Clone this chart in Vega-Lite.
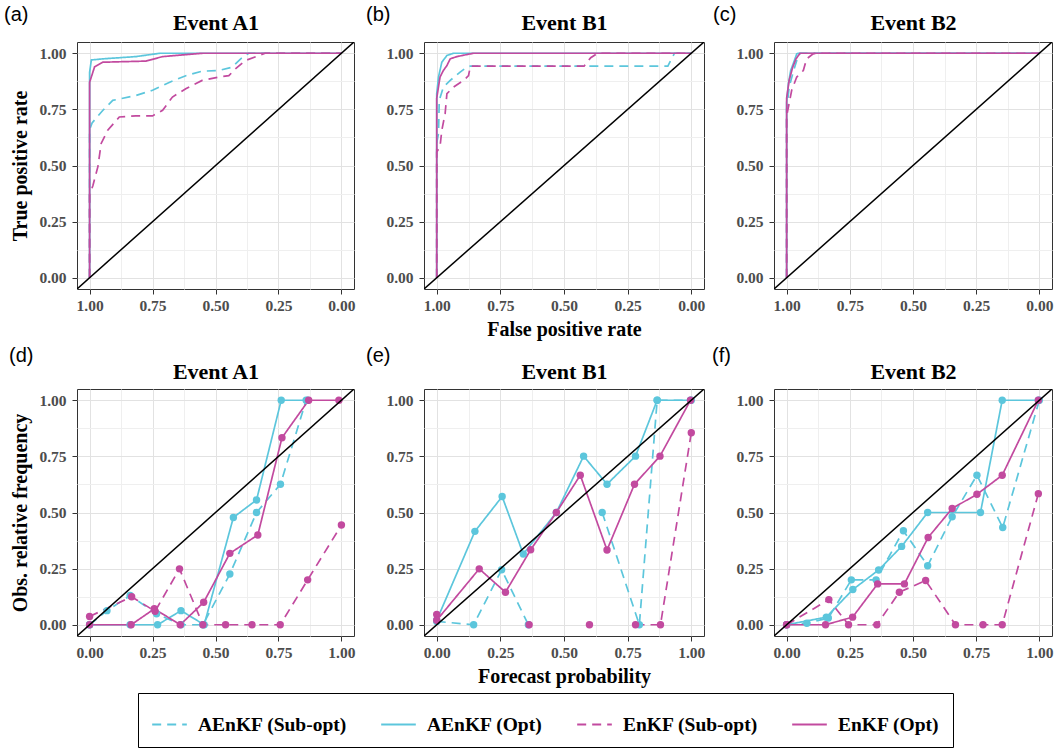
{
"$schema": "https://vega.github.io/schema/vega-lite/v6.json",
"padding": {"left": 3, "top": 4, "right": 2, "bottom": 2},
"background": "white",
"config": {
  "view": {"stroke": "#333333", "strokeWidth": 1},
  "axis": {"labelFont": "Liberation Serif", "labelFontWeight": "bold", "labelFontSize": 15.5, "labelColor": "#4d4d4d",
           "titleFont": "Liberation Serif", "titleFontWeight": "bold", "titleFontSize": 20, "titleColor": "black",
           "domain": false, "tickColor": "#333333", "tickSize": 5, "gridWidth": 1},
  "title": {"font": "Liberation Sans", "fontSize": 20, "fontWeight": "normal", "anchor": "start", "frame": "group", "baseline": "alphabetic", "color": "black"},
  "legend": {"labelFont": "Liberation Serif", "labelFontWeight": "bold", "labelFontSize": 19.5, "labelColor": "black",
             "symbolType": "stroke", "symbolSize": 1200, "symbolStrokeWidth": 2, "strokeColor": "black", "padding": 13,
             "columnPadding": 30, "labelOffset": 10, "labelLimit": 300}
},
"datasets": {
"roc": [
{"p":"a","m":"AEnKF (Sub-opt)","i":0,"x":1,"y":0},{"p":"a","m":"AEnKF (Sub-opt)","i":1,"x":1,"y":0.66},{"p":"a","m":"AEnKF (Sub-opt)","i":2,"x":0.99,"y":0.69},{"p":"a","m":"AEnKF (Sub-opt)","i":3,"x":0.947,"y":0.746},{"p":"a","m":"AEnKF (Sub-opt)","i":4,"x":0.908,"y":0.79},{"p":"a","m":"AEnKF (Sub-opt)","i":5,"x":0.816,"y":0.812},{"p":"a","m":"AEnKF (Sub-opt)","i":6,"x":0.75,"y":0.835},{"p":"a","m":"AEnKF (Sub-opt)","i":7,"x":0.684,"y":0.87},{"p":"a","m":"AEnKF (Sub-opt)","i":8,"x":0.618,"y":0.9},{"p":"a","m":"AEnKF (Sub-opt)","i":9,"x":0.553,"y":0.92},{"p":"a","m":"AEnKF (Sub-opt)","i":10,"x":0.487,"y":0.923},{"p":"a","m":"AEnKF (Sub-opt)","i":11,"x":0.434,"y":0.938},{"p":"a","m":"AEnKF (Sub-opt)","i":12,"x":0.4,"y":0.975},{"p":"a","m":"AEnKF (Sub-opt)","i":13,"x":0.368,"y":1},{"p":"a","m":"AEnKF (Sub-opt)","i":14,"x":0,"y":1},
{"p":"a","m":"AEnKF (Opt)","i":0,"x":1,"y":0},{"p":"a","m":"AEnKF (Opt)","i":1,"x":1,"y":0.915},{"p":"a","m":"AEnKF (Opt)","i":2,"x":0.993,"y":0.97},{"p":"a","m":"AEnKF (Opt)","i":3,"x":0.947,"y":0.975},{"p":"a","m":"AEnKF (Opt)","i":4,"x":0.816,"y":0.985},{"p":"a","m":"AEnKF (Opt)","i":5,"x":0.72,"y":1},{"p":"a","m":"AEnKF (Opt)","i":6,"x":0,"y":1},
{"p":"a","m":"EnKF (Sub-opt)","i":0,"x":1,"y":0},{"p":"a","m":"EnKF (Sub-opt)","i":1,"x":1,"y":0.37},{"p":"a","m":"EnKF (Sub-opt)","i":2,"x":0.987,"y":0.41},{"p":"a","m":"EnKF (Sub-opt)","i":3,"x":0.967,"y":0.495},{"p":"a","m":"EnKF (Sub-opt)","i":4,"x":0.954,"y":0.598},{"p":"a","m":"EnKF (Sub-opt)","i":5,"x":0.928,"y":0.657},{"p":"a","m":"EnKF (Sub-opt)","i":6,"x":0.882,"y":0.716},{"p":"a","m":"EnKF (Sub-opt)","i":7,"x":0.816,"y":0.721},{"p":"a","m":"EnKF (Sub-opt)","i":8,"x":0.75,"y":0.721},{"p":"a","m":"EnKF (Sub-opt)","i":9,"x":0.71,"y":0.746},{"p":"a","m":"EnKF (Sub-opt)","i":10,"x":0.671,"y":0.805},{"p":"a","m":"EnKF (Sub-opt)","i":11,"x":0.618,"y":0.842},{"p":"a","m":"EnKF (Sub-opt)","i":12,"x":0.553,"y":0.879},{"p":"a","m":"EnKF (Sub-opt)","i":13,"x":0.487,"y":0.894},{"p":"a","m":"EnKF (Sub-opt)","i":14,"x":0.447,"y":0.9},{"p":"a","m":"EnKF (Sub-opt)","i":15,"x":0.421,"y":0.93},{"p":"a","m":"EnKF (Sub-opt)","i":16,"x":0.382,"y":0.967},{"p":"a","m":"EnKF (Sub-opt)","i":17,"x":0.303,"y":1},{"p":"a","m":"EnKF (Sub-opt)","i":18,"x":0,"y":1},
{"p":"a","m":"EnKF (Opt)","i":0,"x":1,"y":0},{"p":"a","m":"EnKF (Opt)","i":1,"x":1,"y":0.87},{"p":"a","m":"EnKF (Opt)","i":2,"x":0.98,"y":0.94},{"p":"a","m":"EnKF (Opt)","i":3,"x":0.947,"y":0.96},{"p":"a","m":"EnKF (Opt)","i":4,"x":0.776,"y":0.965},{"p":"a","m":"EnKF (Opt)","i":5,"x":0.71,"y":0.985},{"p":"a","m":"EnKF (Opt)","i":6,"x":0.605,"y":0.995},{"p":"a","m":"EnKF (Opt)","i":7,"x":0.55,"y":1},{"p":"a","m":"EnKF (Opt)","i":8,"x":0,"y":1},
{"p":"b","m":"AEnKF (Sub-opt)","i":0,"x":1,"y":0},{"p":"b","m":"AEnKF (Sub-opt)","i":1,"x":1,"y":0.6},{"p":"b","m":"AEnKF (Sub-opt)","i":2,"x":0.993,"y":0.643},{"p":"b","m":"AEnKF (Sub-opt)","i":3,"x":0.99,"y":0.79},{"p":"b","m":"AEnKF (Sub-opt)","i":4,"x":0.974,"y":0.849},{"p":"b","m":"AEnKF (Sub-opt)","i":5,"x":0.947,"y":0.879},{"p":"b","m":"AEnKF (Sub-opt)","i":6,"x":0.908,"y":0.916},{"p":"b","m":"AEnKF (Sub-opt)","i":7,"x":0.882,"y":0.938},{"p":"b","m":"AEnKF (Sub-opt)","i":8,"x":0.868,"y":0.943},{"p":"b","m":"AEnKF (Sub-opt)","i":9,"x":0.092,"y":0.943},{"p":"b","m":"AEnKF (Sub-opt)","i":10,"x":0.066,"y":1},{"p":"b","m":"AEnKF (Sub-opt)","i":11,"x":0,"y":1},
{"p":"b","m":"AEnKF (Opt)","i":0,"x":1,"y":0},{"p":"b","m":"AEnKF (Opt)","i":1,"x":1,"y":0.82},{"p":"b","m":"AEnKF (Opt)","i":2,"x":0.993,"y":0.894},{"p":"b","m":"AEnKF (Opt)","i":3,"x":0.98,"y":0.96},{"p":"b","m":"AEnKF (Opt)","i":4,"x":0.96,"y":0.99},{"p":"b","m":"AEnKF (Opt)","i":5,"x":0.934,"y":1},{"p":"b","m":"AEnKF (Opt)","i":6,"x":0,"y":1},
{"p":"b","m":"EnKF (Sub-opt)","i":0,"x":1,"y":0},{"p":"b","m":"EnKF (Sub-opt)","i":1,"x":1,"y":0.56},{"p":"b","m":"EnKF (Sub-opt)","i":2,"x":0.987,"y":0.584},{"p":"b","m":"EnKF (Sub-opt)","i":3,"x":0.98,"y":0.657},{"p":"b","m":"EnKF (Sub-opt)","i":4,"x":0.967,"y":0.731},{"p":"b","m":"EnKF (Sub-opt)","i":5,"x":0.96,"y":0.82},{"p":"b","m":"EnKF (Sub-opt)","i":6,"x":0.934,"y":0.849},{"p":"b","m":"EnKF (Sub-opt)","i":7,"x":0.895,"y":0.879},{"p":"b","m":"EnKF (Sub-opt)","i":8,"x":0.875,"y":0.9},{"p":"b","m":"EnKF (Sub-opt)","i":9,"x":0.868,"y":0.943},{"p":"b","m":"EnKF (Sub-opt)","i":10,"x":0.421,"y":0.943},{"p":"b","m":"EnKF (Sub-opt)","i":11,"x":0.395,"y":0.98},{"p":"b","m":"EnKF (Sub-opt)","i":12,"x":0.368,"y":1},{"p":"b","m":"EnKF (Sub-opt)","i":13,"x":0,"y":1},
{"p":"b","m":"EnKF (Opt)","i":0,"x":1,"y":0},{"p":"b","m":"EnKF (Opt)","i":1,"x":1,"y":0.8},{"p":"b","m":"EnKF (Opt)","i":2,"x":0.987,"y":0.894},{"p":"b","m":"EnKF (Opt)","i":3,"x":0.974,"y":0.923},{"p":"b","m":"EnKF (Opt)","i":4,"x":0.96,"y":0.945},{"p":"b","m":"EnKF (Opt)","i":5,"x":0.947,"y":0.975},{"p":"b","m":"EnKF (Opt)","i":6,"x":0.921,"y":0.985},{"p":"b","m":"EnKF (Opt)","i":7,"x":0.882,"y":0.994},{"p":"b","m":"EnKF (Opt)","i":8,"x":0.855,"y":1},{"p":"b","m":"EnKF (Opt)","i":9,"x":0,"y":1},
{"p":"c","m":"AEnKF (Sub-opt)","i":0,"x":1,"y":0},{"p":"c","m":"AEnKF (Sub-opt)","i":1,"x":1,"y":0.75},{"p":"c","m":"AEnKF (Sub-opt)","i":2,"x":0.99,"y":0.849},{"p":"c","m":"AEnKF (Sub-opt)","i":3,"x":0.974,"y":0.916},{"p":"c","m":"AEnKF (Sub-opt)","i":4,"x":0.958,"y":0.975},{"p":"c","m":"AEnKF (Sub-opt)","i":5,"x":0.947,"y":1},{"p":"c","m":"AEnKF (Sub-opt)","i":6,"x":0,"y":1},
{"p":"c","m":"AEnKF (Opt)","i":0,"x":1,"y":0},{"p":"c","m":"AEnKF (Opt)","i":1,"x":1,"y":0.78},{"p":"c","m":"AEnKF (Opt)","i":2,"x":0.993,"y":0.864},{"p":"c","m":"AEnKF (Opt)","i":3,"x":0.984,"y":0.923},{"p":"c","m":"AEnKF (Opt)","i":4,"x":0.974,"y":0.953},{"p":"c","m":"AEnKF (Opt)","i":5,"x":0.96,"y":0.997},{"p":"c","m":"AEnKF (Opt)","i":6,"x":0.954,"y":1},{"p":"c","m":"AEnKF (Opt)","i":7,"x":0,"y":1},
{"p":"c","m":"EnKF (Sub-opt)","i":0,"x":1,"y":0},{"p":"c","m":"EnKF (Sub-opt)","i":1,"x":1,"y":0.72},{"p":"c","m":"EnKF (Sub-opt)","i":2,"x":0.993,"y":0.76},{"p":"c","m":"EnKF (Sub-opt)","i":3,"x":0.98,"y":0.835},{"p":"c","m":"EnKF (Sub-opt)","i":4,"x":0.96,"y":0.894},{"p":"c","m":"EnKF (Sub-opt)","i":5,"x":0.934,"y":0.923},{"p":"c","m":"EnKF (Sub-opt)","i":6,"x":0.921,"y":0.975},{"p":"c","m":"EnKF (Sub-opt)","i":7,"x":0.895,"y":0.997},{"p":"c","m":"EnKF (Sub-opt)","i":8,"x":0.882,"y":1},{"p":"c","m":"EnKF (Sub-opt)","i":9,"x":0,"y":1},
{"p":"c","m":"EnKF (Opt)","i":0,"x":1,"y":0},{"p":"c","m":"EnKF (Opt)","i":1,"x":1,"y":0.8},{"p":"c","m":"EnKF (Opt)","i":2,"x":0.99,"y":0.879},{"p":"c","m":"EnKF (Opt)","i":3,"x":0.976,"y":0.938},{"p":"c","m":"EnKF (Opt)","i":4,"x":0.963,"y":0.975},{"p":"c","m":"EnKF (Opt)","i":5,"x":0.947,"y":1},{"p":"c","m":"EnKF (Opt)","i":6,"x":0,"y":1}
],
"rel": [
{"p":"d","m":"AEnKF (Sub-opt)","x":0,"y":0},{"p":"d","m":"AEnKF (Sub-opt)","x":0.069,"y":0.063},{"p":"d","m":"AEnKF (Sub-opt)","x":0.161,"y":0.13},{"p":"d","m":"AEnKF (Sub-opt)","x":0.266,"y":0.049},{"p":"d","m":"AEnKF (Sub-opt)","x":0.363,"y":0},{"p":"d","m":"AEnKF (Sub-opt)","x":0.45,"y":0},{"p":"d","m":"AEnKF (Sub-opt)","x":0.557,"y":0.226},{"p":"d","m":"AEnKF (Sub-opt)","x":0.663,"y":0.5},{"p":"d","m":"AEnKF (Sub-opt)","x":0.758,"y":0.626},{"p":"d","m":"AEnKF (Sub-opt)","x":0.86,"y":1},
{"p":"d","m":"AEnKF (Opt)","x":0,"y":0},{"p":"d","m":"AEnKF (Opt)","x":0.161,"y":0},{"p":"d","m":"AEnKF (Opt)","x":0.27,"y":0},{"p":"d","m":"AEnKF (Opt)","x":0.363,"y":0.063},{"p":"d","m":"AEnKF (Opt)","x":0.455,"y":0},{"p":"d","m":"AEnKF (Opt)","x":0.571,"y":0.478},{"p":"d","m":"AEnKF (Opt)","x":0.663,"y":0.556},{"p":"d","m":"AEnKF (Opt)","x":0.761,"y":1},{"p":"d","m":"AEnKF (Opt)","x":0.866,"y":1},
{"p":"d","m":"EnKF (Sub-opt)","x":0,"y":0.037},{"p":"d","m":"EnKF (Sub-opt)","x":0.167,"y":0.125},{"p":"d","m":"EnKF (Sub-opt)","x":0.26,"y":0.06},{"p":"d","m":"EnKF (Sub-opt)","x":0.357,"y":0.249},{"p":"d","m":"EnKF (Sub-opt)","x":0.45,"y":0},{"p":"d","m":"EnKF (Sub-opt)","x":0.54,"y":0},{"p":"d","m":"EnKF (Sub-opt)","x":0.645,"y":0},{"p":"d","m":"EnKF (Sub-opt)","x":0.757,"y":0},{"p":"d","m":"EnKF (Sub-opt)","x":0.866,"y":0.2},{"p":"d","m":"EnKF (Sub-opt)","x":1,"y":0.444},
{"p":"d","m":"EnKF (Opt)","x":0,"y":0},{"p":"d","m":"EnKF (Opt)","x":0.165,"y":0},{"p":"d","m":"EnKF (Opt)","x":0.257,"y":0.071},{"p":"d","m":"EnKF (Opt)","x":0.36,"y":0},{"p":"d","m":"EnKF (Opt)","x":0.453,"y":0.1},{"p":"d","m":"EnKF (Opt)","x":0.557,"y":0.318},{"p":"d","m":"EnKF (Opt)","x":0.668,"y":0.4},{"p":"d","m":"EnKF (Opt)","x":0.764,"y":0.833},{"p":"d","m":"EnKF (Opt)","x":0.87,"y":1},{"p":"d","m":"EnKF (Opt)","x":0.99,"y":1},
{"p":"e","m":"AEnKF (Sub-opt)","x":0,"y":0.015},{"p":"e","m":"AEnKF (Sub-opt)","x":0.145,"y":0},{"p":"e","m":"AEnKF (Sub-opt)","x":0.255,"y":0.245},{"p":"e","m":"AEnKF (Sub-opt)","x":0.36,"y":0},{"p":"e","m":"AEnKF (Sub-opt)","x":0.5,"y":null},{"p":"e","m":"AEnKF (Sub-opt)","x":0.65,"y":0.5},{"p":"e","m":"AEnKF (Sub-opt)","x":0.796,"y":0},{"p":"e","m":"AEnKF (Sub-opt)","x":0.866,"y":1},{"p":"e","m":"AEnKF (Sub-opt)","x":1,"y":1},
{"p":"e","m":"AEnKF (Opt)","x":0,"y":0.02},{"p":"e","m":"AEnKF (Opt)","x":0.15,"y":0.416},{"p":"e","m":"AEnKF (Opt)","x":0.257,"y":0.571},{"p":"e","m":"AEnKF (Opt)","x":0.34,"y":0.315},{"p":"e","m":"AEnKF (Opt)","x":0.47,"y":0.5},{"p":"e","m":"AEnKF (Opt)","x":0.577,"y":0.751},{"p":"e","m":"AEnKF (Opt)","x":0.669,"y":0.626},{"p":"e","m":"AEnKF (Opt)","x":0.781,"y":0.751},{"p":"e","m":"AEnKF (Opt)","x":0.866,"y":1},{"p":"e","m":"AEnKF (Opt)","x":0.997,"y":1},
{"p":"e","m":"EnKF (Sub-opt)","x":0,"y":0.046},{"p":"e","m":"EnKF (Sub-opt)","x":0.18,"y":null},{"p":"e","m":"EnKF (Sub-opt)","x":0.363,"y":0},{"p":"e","m":"EnKF (Sub-opt)","x":0.48,"y":null},{"p":"e","m":"EnKF (Sub-opt)","x":0.6,"y":0},{"p":"e","m":"EnKF (Sub-opt)","x":0.7,"y":null},{"p":"e","m":"EnKF (Sub-opt)","x":0.781,"y":0},{"p":"e","m":"EnKF (Sub-opt)","x":0.879,"y":0},{"p":"e","m":"EnKF (Sub-opt)","x":1,"y":0.855},
{"p":"e","m":"EnKF (Opt)","x":0,"y":0.02},{"p":"e","m":"EnKF (Opt)","x":0.167,"y":0.249},{"p":"e","m":"EnKF (Opt)","x":0.27,"y":0.145},{"p":"e","m":"EnKF (Opt)","x":0.369,"y":0.334},{"p":"e","m":"EnKF (Opt)","x":0.47,"y":0.5},{"p":"e","m":"EnKF (Opt)","x":0.564,"y":0.666},{"p":"e","m":"EnKF (Opt)","x":0.669,"y":0.333},{"p":"e","m":"EnKF (Opt)","x":0.777,"y":0.626},{"p":"e","m":"EnKF (Opt)","x":0.877,"y":0.751},{"p":"e","m":"EnKF (Opt)","x":0.997,"y":1},
{"p":"f","m":"AEnKF (Sub-opt)","x":0,"y":0},{"p":"f","m":"AEnKF (Sub-opt)","x":0.08,"y":0.007},{"p":"f","m":"AEnKF (Sub-opt)","x":0.165,"y":0.03},{"p":"f","m":"AEnKF (Sub-opt)","x":0.256,"y":0.2},{"p":"f","m":"AEnKF (Sub-opt)","x":0.354,"y":0.2},{"p":"f","m":"AEnKF (Sub-opt)","x":0.462,"y":0.419},{"p":"f","m":"AEnKF (Sub-opt)","x":0.558,"y":0.263},{"p":"f","m":"AEnKF (Sub-opt)","x":0.655,"y":0.481},{"p":"f","m":"AEnKF (Sub-opt)","x":0.753,"y":0.666},{"p":"f","m":"AEnKF (Sub-opt)","x":0.855,"y":0.433},{"p":"f","m":"AEnKF (Sub-opt)","x":1,"y":1},
{"p":"f","m":"AEnKF (Opt)","x":0,"y":0},{"p":"f","m":"AEnKF (Opt)","x":0.157,"y":0.034},{"p":"f","m":"AEnKF (Opt)","x":0.262,"y":0.157},{"p":"f","m":"AEnKF (Opt)","x":0.364,"y":0.244},{"p":"f","m":"AEnKF (Opt)","x":0.455,"y":0.349},{"p":"f","m":"AEnKF (Opt)","x":0.558,"y":0.5},{"p":"f","m":"AEnKF (Opt)","x":0.767,"y":0.5},{"p":"f","m":"AEnKF (Opt)","x":0.853,"y":1},{"p":"f","m":"AEnKF (Opt)","x":0.996,"y":1},
{"p":"f","m":"EnKF (Sub-opt)","x":0,"y":0},{"p":"f","m":"EnKF (Sub-opt)","x":0.167,"y":0.112},{"p":"f","m":"EnKF (Sub-opt)","x":0.245,"y":0},{"p":"f","m":"EnKF (Sub-opt)","x":0.357,"y":0},{"p":"f","m":"EnKF (Sub-opt)","x":0.446,"y":0.145},{"p":"f","m":"EnKF (Sub-opt)","x":0.55,"y":0.197},{"p":"f","m":"EnKF (Sub-opt)","x":0.668,"y":0},{"p":"f","m":"EnKF (Sub-opt)","x":0.777,"y":0},{"p":"f","m":"EnKF (Sub-opt)","x":0.853,"y":0},{"p":"f","m":"EnKF (Sub-opt)","x":0.996,"y":0.584},
{"p":"f","m":"EnKF (Opt)","x":0,"y":0},{"p":"f","m":"EnKF (Opt)","x":0.154,"y":0},{"p":"f","m":"EnKF (Opt)","x":0.261,"y":0.034},{"p":"f","m":"EnKF (Opt)","x":0.36,"y":0.182},{"p":"f","m":"EnKF (Opt)","x":0.466,"y":0.182},{"p":"f","m":"EnKF (Opt)","x":0.56,"y":0.389},{"p":"f","m":"EnKF (Opt)","x":0.655,"y":0.518},{"p":"f","m":"EnKF (Opt)","x":0.753,"y":0.581},{"p":"f","m":"EnKF (Opt)","x":0.853,"y":0.666},{"p":"f","m":"EnKF (Opt)","x":0.996,"y":1}
]
},
"bounds": "flush",
"align": "each",
"columns": 3,
"spacing": {"row": 100, "column": 70},
"concat": [
 {"width": 277, "height": 247, "title": {"text": "(a)", "dx": -73, "offset": -14},
  "resolve": {"axis": {"x": "independent", "y": "independent"}},
  "layer": [
   {"data": {"name": "roc"}, "transform": [{"filter": "datum.p == 'a'"}],
    "mark": {"type": "line", "strokeWidth": 1.7, "clip": true},
    "encoding": {
     "x": {"field": "x", "type": "quantitative", "scale": {"domain": [-0.05, 1.05], "reverse": true, "nice": false, "zero": false},
       "axis": {"title": null, "values": [0,0.125,0.25,0.375,0.5,0.625,0.75,0.875,1], "labelOverlap": false, "labelFlush": false, "labelPadding": 4,
         "labelExpr": "abs(datum.value*4-round(datum.value*4))<0.01 ? format(datum.value,'.2f') : ''",
         "tickOpacity": {"condition": {"test": "abs(datum.value*4-round(datum.value*4))<0.01", "value": 1}, "value": 0},
         "gridColor": {"condition": {"test": "abs(datum.value*4-round(datum.value*4))<0.01", "value": "#e2e2e2"}, "value": "#efefef"}}},
     "y": {"field": "y", "type": "quantitative", "scale": {"domain": [-0.05, 1.05], "nice": false, "zero": false},
       "axis": {"title": "True positive rate", "titlePadding": 8, "values": [0,0.125,0.25,0.375,0.5,0.625,0.75,0.875,1], "labelOverlap": false, "labelFlush": false, "labelPadding": 6,
         "labelExpr": "abs(datum.value*4-round(datum.value*4))<0.01 ? format(datum.value,'.2f') : ''",
         "tickOpacity": {"condition": {"test": "abs(datum.value*4-round(datum.value*4))<0.01", "value": 1}, "value": 0},
         "gridColor": {"condition": {"test": "abs(datum.value*4-round(datum.value*4))<0.01", "value": "#e2e2e2"}, "value": "#efefef"}}},
     "color": {"field": "m", "type": "nominal", "scale": {"domain": ["AEnKF (Sub-opt)", "AEnKF (Opt)", "EnKF (Sub-opt)", "EnKF (Opt)"], "range": ["#5cc6dc", "#5cc6dc", "#c24a9f", "#c24a9f"]},
       "legend": {"title": null, "orient": "none", "legendX": 61, "legendY": 651, "direction": "horizontal", "columns": 4}},
     "strokeDash": {"field": "m", "type": "nominal", "scale": {"domain": ["AEnKF (Sub-opt)", "AEnKF (Opt)", "EnKF (Sub-opt)", "EnKF (Opt)"], "range": [[9, 6], [1, 0], [9, 6], [1, 0]]},
       "legend": {"title": null, "orient": "none", "legendX": 61, "legendY": 651, "direction": "horizontal", "columns": 4}},
     "order": {"field": "i", "type": "quantitative"}
    }},
   {"data": {"values": [{}]},
    "mark": {"type": "rule", "color": "black", "strokeWidth": 1.5, "clip": true},
    "encoding": {
     "x": {"datum": 1.05, "type": "quantitative", "scale": {"domain": [-0.05, 1.05], "reverse": true, "nice": false, "zero": false},
       "axis": {"orient": "top", "title": "Event A1", "labels": false, "ticks": false, "grid": false, "domain": false, "titleFontSize": 22, "titleBaseline": "alphabetic", "titlePadding": 13}},
     "y": {"datum": -0.05, "type": "quantitative", "scale": {"domain": [-0.05, 1.05], "nice": false, "zero": false}, "axis": null},
     "x2": {"datum": -0.05}, "y2": {"datum": 1.05}
    }}
  ]},
 {"width": 280, "height": 247, "title": {"text": "(b)", "dx": -58, "offset": -14},
  "resolve": {"axis": {"x": "independent", "y": "independent"}},
  "layer": [
   {"data": {"name": "roc"}, "transform": [{"filter": "datum.p == 'b'"}],
    "mark": {"type": "line", "strokeWidth": 1.7, "clip": true},
    "encoding": {
     "x": {"field": "x", "type": "quantitative", "scale": {"domain": [-0.05, 1.05], "reverse": true, "nice": false, "zero": false},
       "axis": {"title": "False positive rate", "titlePadding": 6, "values": [0,0.125,0.25,0.375,0.5,0.625,0.75,0.875,1], "labelOverlap": false, "labelFlush": false, "labelPadding": 4,
         "labelExpr": "abs(datum.value*4-round(datum.value*4))<0.01 ? format(datum.value,'.2f') : ''",
         "tickOpacity": {"condition": {"test": "abs(datum.value*4-round(datum.value*4))<0.01", "value": 1}, "value": 0},
         "gridColor": {"condition": {"test": "abs(datum.value*4-round(datum.value*4))<0.01", "value": "#e2e2e2"}, "value": "#efefef"}}},
     "y": {"field": "y", "type": "quantitative", "scale": {"domain": [-0.05, 1.05], "nice": false, "zero": false},
       "axis": {"title": null, "values": [0,0.125,0.25,0.375,0.5,0.625,0.75,0.875,1], "labelOverlap": false, "labelFlush": false, "labelPadding": 6,
         "labelExpr": "abs(datum.value*4-round(datum.value*4))<0.01 ? format(datum.value,'.2f') : ''",
         "tickOpacity": {"condition": {"test": "abs(datum.value*4-round(datum.value*4))<0.01", "value": 1}, "value": 0},
         "gridColor": {"condition": {"test": "abs(datum.value*4-round(datum.value*4))<0.01", "value": "#e2e2e2"}, "value": "#efefef"}}},
     "color": {"field": "m", "type": "nominal"},
     "strokeDash": {"field": "m", "type": "nominal"},
     "order": {"field": "i", "type": "quantitative"}
    }},
   {"data": {"values": [{}]},
    "mark": {"type": "rule", "color": "black", "strokeWidth": 1.5, "clip": true},
    "encoding": {
     "x": {"datum": 1.05, "type": "quantitative", "scale": {"domain": [-0.05, 1.05], "reverse": true, "nice": false, "zero": false},
       "axis": {"orient": "top", "title": "Event B1", "labels": false, "ticks": false, "grid": false, "domain": false, "titleFontSize": 22, "titleBaseline": "alphabetic", "titlePadding": 13}},
     "y": {"datum": -0.05, "type": "quantitative", "scale": {"domain": [-0.05, 1.05], "nice": false, "zero": false}, "axis": null},
     "x2": {"datum": -0.05}, "y2": {"datum": 1.05}
    }}
  ]},
 {"width": 278, "height": 247, "title": {"text": "(c)", "dx": -61, "offset": -14},
  "resolve": {"axis": {"x": "independent", "y": "independent"}},
  "layer": [
   {"data": {"name": "roc"}, "transform": [{"filter": "datum.p == 'c'"}],
    "mark": {"type": "line", "strokeWidth": 1.7, "clip": true},
    "encoding": {
     "x": {"field": "x", "type": "quantitative", "scale": {"domain": [-0.05, 1.05], "reverse": true, "nice": false, "zero": false},
       "axis": {"title": null, "values": [0,0.125,0.25,0.375,0.5,0.625,0.75,0.875,1], "labelOverlap": false, "labelFlush": false, "labelPadding": 4,
         "labelExpr": "abs(datum.value*4-round(datum.value*4))<0.01 ? format(datum.value,'.2f') : ''",
         "tickOpacity": {"condition": {"test": "abs(datum.value*4-round(datum.value*4))<0.01", "value": 1}, "value": 0},
         "gridColor": {"condition": {"test": "abs(datum.value*4-round(datum.value*4))<0.01", "value": "#e2e2e2"}, "value": "#efefef"}}},
     "y": {"field": "y", "type": "quantitative", "scale": {"domain": [-0.05, 1.05], "nice": false, "zero": false},
       "axis": {"title": null, "values": [0,0.125,0.25,0.375,0.5,0.625,0.75,0.875,1], "labelOverlap": false, "labelFlush": false, "labelPadding": 6,
         "labelExpr": "abs(datum.value*4-round(datum.value*4))<0.01 ? format(datum.value,'.2f') : ''",
         "tickOpacity": {"condition": {"test": "abs(datum.value*4-round(datum.value*4))<0.01", "value": 1}, "value": 0},
         "gridColor": {"condition": {"test": "abs(datum.value*4-round(datum.value*4))<0.01", "value": "#e2e2e2"}, "value": "#efefef"}}},
     "color": {"field": "m", "type": "nominal"},
     "strokeDash": {"field": "m", "type": "nominal"},
     "order": {"field": "i", "type": "quantitative"}
    }},
   {"data": {"values": [{}]},
    "mark": {"type": "rule", "color": "black", "strokeWidth": 1.5, "clip": true},
    "encoding": {
     "x": {"datum": 1.05, "type": "quantitative", "scale": {"domain": [-0.05, 1.05], "reverse": true, "nice": false, "zero": false},
       "axis": {"orient": "top", "title": "Event B2", "labels": false, "ticks": false, "grid": false, "domain": false, "titleFontSize": 22, "titleBaseline": "alphabetic", "titlePadding": 13}},
     "y": {"datum": -0.05, "type": "quantitative", "scale": {"domain": [-0.05, 1.05], "nice": false, "zero": false}, "axis": null},
     "x2": {"datum": -0.05}, "y2": {"datum": 1.05}
    }}
  ]},
 {"width": 277, "height": 247, "title": {"text": "(d)", "dx": -68, "offset": -6},
  "resolve": {"axis": {"x": "independent", "y": "independent"}},
  "layer": [
   {"data": {"name": "rel"}, "transform": [{"filter": "datum.p == 'd'"}],
    "mark": {"type": "line", "strokeWidth": 1.7, "invalid": "break-paths-filter-domains"},
    "encoding": {
     "x": {"field": "x", "type": "quantitative", "scale": {"domain": [-0.05, 1.05], "nice": false, "zero": false},
       "axis": {"title": null, "values": [0,0.125,0.25,0.375,0.5,0.625,0.75,0.875,1], "labelOverlap": false, "labelFlush": false, "labelPadding": 4,
         "labelExpr": "abs(datum.value*4-round(datum.value*4))<0.01 ? format(datum.value,'.2f') : ''",
         "tickOpacity": {"condition": {"test": "abs(datum.value*4-round(datum.value*4))<0.01", "value": 1}, "value": 0},
         "gridColor": {"condition": {"test": "abs(datum.value*4-round(datum.value*4))<0.01", "value": "#e2e2e2"}, "value": "#efefef"}}},
     "y": {"field": "y", "type": "quantitative", "scale": {"domain": [-0.05, 1.05], "nice": false, "zero": false},
       "axis": {"title": "Obs. relative frequency", "titlePadding": 8, "values": [0,0.125,0.25,0.375,0.5,0.625,0.75,0.875,1], "labelOverlap": false, "labelFlush": false, "labelPadding": 6,
         "labelExpr": "abs(datum.value*4-round(datum.value*4))<0.01 ? format(datum.value,'.2f') : ''",
         "tickOpacity": {"condition": {"test": "abs(datum.value*4-round(datum.value*4))<0.01", "value": 1}, "value": 0},
         "gridColor": {"condition": {"test": "abs(datum.value*4-round(datum.value*4))<0.01", "value": "#e2e2e2"}, "value": "#efefef"}}},
     "color": {"field": "m", "type": "nominal"},
     "strokeDash": {"field": "m", "type": "nominal"}
    }},
   {"data": {"name": "rel"}, "transform": [{"filter": "datum.p == 'd' && datum.y != null"}],
    "mark": {"type": "point", "filled": true, "size": 55, "opacity": 1},
    "encoding": {
     "x": {"field": "x", "type": "quantitative", "axis": null},
     "y": {"field": "y", "type": "quantitative", "axis": null},
     "color": {"field": "m", "type": "nominal", "legend": null}
    }},
   {"data": {"values": [{}]},
    "mark": {"type": "rule", "color": "black", "strokeWidth": 1.5, "clip": true},
    "encoding": {
     "x": {"datum": -0.05, "type": "quantitative", "scale": {"domain": [-0.05, 1.05], "nice": false, "zero": false},
       "axis": {"orient": "top", "title": "Event A1", "labels": false, "ticks": false, "grid": false, "domain": false, "titleFontSize": 22, "titleBaseline": "alphabetic", "titlePadding": 11}},
     "y": {"datum": -0.05, "type": "quantitative", "scale": {"domain": [-0.05, 1.05], "nice": false, "zero": false}, "axis": null},
     "x2": {"datum": 1.05}, "y2": {"datum": 1.05}
    }}
  ]},
 {"width": 280, "height": 247, "title": {"text": "(e)", "dx": -58, "offset": -6},
  "resolve": {"axis": {"x": "independent", "y": "independent"}},
  "layer": [
   {"data": {"name": "rel"}, "transform": [{"filter": "datum.p == 'e'"}],
    "mark": {"type": "line", "strokeWidth": 1.7, "invalid": "break-paths-filter-domains"},
    "encoding": {
     "x": {"field": "x", "type": "quantitative", "scale": {"domain": [-0.05, 1.05], "nice": false, "zero": false},
       "axis": {"title": "Forecast probability", "titlePadding": 6, "values": [0,0.125,0.25,0.375,0.5,0.625,0.75,0.875,1], "labelOverlap": false, "labelFlush": false, "labelPadding": 4,
         "labelExpr": "abs(datum.value*4-round(datum.value*4))<0.01 ? format(datum.value,'.2f') : ''",
         "tickOpacity": {"condition": {"test": "abs(datum.value*4-round(datum.value*4))<0.01", "value": 1}, "value": 0},
         "gridColor": {"condition": {"test": "abs(datum.value*4-round(datum.value*4))<0.01", "value": "#e2e2e2"}, "value": "#efefef"}}},
     "y": {"field": "y", "type": "quantitative", "scale": {"domain": [-0.05, 1.05], "nice": false, "zero": false},
       "axis": {"title": null, "values": [0,0.125,0.25,0.375,0.5,0.625,0.75,0.875,1], "labelOverlap": false, "labelFlush": false, "labelPadding": 6,
         "labelExpr": "abs(datum.value*4-round(datum.value*4))<0.01 ? format(datum.value,'.2f') : ''",
         "tickOpacity": {"condition": {"test": "abs(datum.value*4-round(datum.value*4))<0.01", "value": 1}, "value": 0},
         "gridColor": {"condition": {"test": "abs(datum.value*4-round(datum.value*4))<0.01", "value": "#e2e2e2"}, "value": "#efefef"}}},
     "color": {"field": "m", "type": "nominal"},
     "strokeDash": {"field": "m", "type": "nominal"}
    }},
   {"data": {"name": "rel"}, "transform": [{"filter": "datum.p == 'e' && datum.y != null"}],
    "mark": {"type": "point", "filled": true, "size": 55, "opacity": 1},
    "encoding": {
     "x": {"field": "x", "type": "quantitative", "axis": null},
     "y": {"field": "y", "type": "quantitative", "axis": null},
     "color": {"field": "m", "type": "nominal", "legend": null}
    }},
   {"data": {"values": [{}]},
    "mark": {"type": "rule", "color": "black", "strokeWidth": 1.5, "clip": true},
    "encoding": {
     "x": {"datum": -0.05, "type": "quantitative", "scale": {"domain": [-0.05, 1.05], "nice": false, "zero": false},
       "axis": {"orient": "top", "title": "Event B1", "labels": false, "ticks": false, "grid": false, "domain": false, "titleFontSize": 22, "titleBaseline": "alphabetic", "titlePadding": 11}},
     "y": {"datum": -0.05, "type": "quantitative", "scale": {"domain": [-0.05, 1.05], "nice": false, "zero": false}, "axis": null},
     "x2": {"datum": 1.05}, "y2": {"datum": 1.05}
    }}
  ]},
 {"width": 278, "height": 247, "title": {"text": "(f)", "dx": -62, "offset": -6},
  "resolve": {"axis": {"x": "independent", "y": "independent"}},
  "layer": [
   {"data": {"name": "rel"}, "transform": [{"filter": "datum.p == 'f'"}],
    "mark": {"type": "line", "strokeWidth": 1.7, "invalid": "break-paths-filter-domains"},
    "encoding": {
     "x": {"field": "x", "type": "quantitative", "scale": {"domain": [-0.05, 1.05], "nice": false, "zero": false},
       "axis": {"title": null, "values": [0,0.125,0.25,0.375,0.5,0.625,0.75,0.875,1], "labelOverlap": false, "labelFlush": false, "labelPadding": 4,
         "labelExpr": "abs(datum.value*4-round(datum.value*4))<0.01 ? format(datum.value,'.2f') : ''",
         "tickOpacity": {"condition": {"test": "abs(datum.value*4-round(datum.value*4))<0.01", "value": 1}, "value": 0},
         "gridColor": {"condition": {"test": "abs(datum.value*4-round(datum.value*4))<0.01", "value": "#e2e2e2"}, "value": "#efefef"}}},
     "y": {"field": "y", "type": "quantitative", "scale": {"domain": [-0.05, 1.05], "nice": false, "zero": false},
       "axis": {"title": null, "values": [0,0.125,0.25,0.375,0.5,0.625,0.75,0.875,1], "labelOverlap": false, "labelFlush": false, "labelPadding": 6,
         "labelExpr": "abs(datum.value*4-round(datum.value*4))<0.01 ? format(datum.value,'.2f') : ''",
         "tickOpacity": {"condition": {"test": "abs(datum.value*4-round(datum.value*4))<0.01", "value": 1}, "value": 0},
         "gridColor": {"condition": {"test": "abs(datum.value*4-round(datum.value*4))<0.01", "value": "#e2e2e2"}, "value": "#efefef"}}},
     "color": {"field": "m", "type": "nominal"},
     "strokeDash": {"field": "m", "type": "nominal"}
    }},
   {"data": {"name": "rel"}, "transform": [{"filter": "datum.p == 'f' && datum.y != null"}],
    "mark": {"type": "point", "filled": true, "size": 55, "opacity": 1},
    "encoding": {
     "x": {"field": "x", "type": "quantitative", "axis": null},
     "y": {"field": "y", "type": "quantitative", "axis": null},
     "color": {"field": "m", "type": "nominal", "legend": null}
    }},
   {"data": {"values": [{}]},
    "mark": {"type": "rule", "color": "black", "strokeWidth": 1.5, "clip": true},
    "encoding": {
     "x": {"datum": -0.05, "type": "quantitative", "scale": {"domain": [-0.05, 1.05], "nice": false, "zero": false},
       "axis": {"orient": "top", "title": "Event B2", "labels": false, "ticks": false, "grid": false, "domain": false, "titleFontSize": 22, "titleBaseline": "alphabetic", "titlePadding": 11}},
     "y": {"datum": -0.05, "type": "quantitative", "scale": {"domain": [-0.05, 1.05], "nice": false, "zero": false}, "axis": null},
     "x2": {"datum": 1.05}, "y2": {"datum": 1.05}
    }}
  ]}
]
}
